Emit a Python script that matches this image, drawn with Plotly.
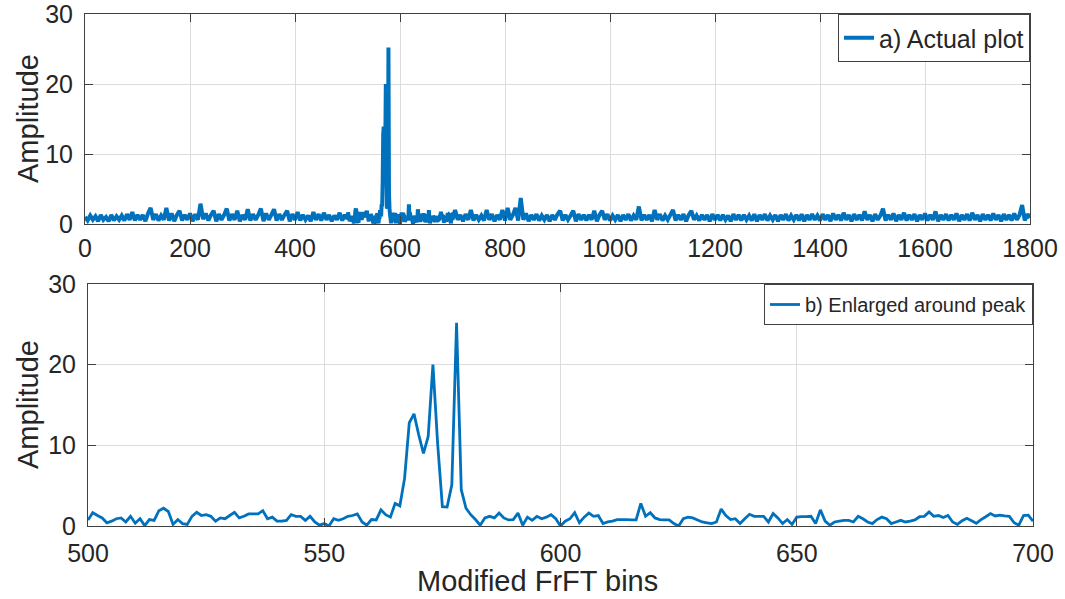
import plotly.graph_objects as go

# ---------------- data ----------------
# b) enlarged region: one value per bin, bins 500..700
zoom_start = 500
zoom_vals = [
    0.75, 1.65, 1.3, 1.0, 0.4, 0.6, 0.9, 1.0, 0.5, 1.2,
    0.35, 0.9, 0.05, 0.8, 0.7, 1.9, 2.2, 1.8, 0.2, 0.8,
    0.3, 0.2, 1.2, 1.7, 1.3, 1.4, 1.2, 0.6, 1.0, 0.9,
    1.3, 1.7, 1.0, 1.2, 1.5, 1.5, 1.5, 1.9, 0.9, 1.1,
    0.6, 0.6, 0.7, 1.4, 1.2, 1.2, 0.7, 1.2, 0.5, 0.1,
    0.3, 0.0, 0.9, 0.7, 0.9, 1.2, 1.3, 1.5, 0.5, 0.1,
    0.8, 0.75, 2.0, 1.4, 1.1, 2.8, 2.5, 5.9, 12.8, 13.9,
    11.3, 9.0, 11.1, 20.0, 10.2, 2.4, 2.35, 5.1, 25.2, 4.5,
    2.2, 1.4, 0.8, 0.1, 1.0, 1.2, 1.0, 1.6, 1.0, 0.75,
    0.8, 1.6, 0.1, 1.1, 0.7, 1.2, 0.9, 1.1, 1.4, 0.9,
    0.0, 0.6, 0.9, 1.65, 0.4, 1.1, 1.6, 1.2, 1.3, 0.3,
    0.5, 0.6, 0.8, 0.8, 0.8, 0.75, 0.75, 2.8, 1.2, 1.65,
    1.0, 0.8, 0.75, 0.75, 0.3, 0.0, 0.9, 1.1, 1.0, 0.75,
    0.5, 0.4, 0.3, 0.5, 2.1, 1.3, 0.8, 0.9, 0.3, 0.9,
    1.45, 1.2, 1.2, 1.2, 0.5, 1.55, 1.0, 0.3, 0.8, 0.2,
    1.1, 1.15, 1.15, 1.2, 0.3, 2.0, 0.6, 0.1, 0.5, 0.6,
    0.7, 0.7, 0.5, 1.2, 0.9, 0.5, 0.3, 0.8, 1.1, 0.9,
    0.3, 0.5, 0.7, 0.5, 0.6, 0.75, 1.15, 1.2, 1.75, 1.2,
    1.3, 1.05, 1.3, 0.5, 0.2, 0.65, 0.95, 0.65, 0.33, 0.8,
    1.15, 1.55, 1.25, 1.35, 1.25, 1.2, 0.4, 0.1, 1.3, 1.35,
    0.6,
]

# a) full range outside the enlarged part, read every 5 bins
step = 5
left_start = 0          # bins 0..495
left_vals = [
    1.0, 0.5, 1.2, 0.6, 1.1, 0.4, 1.3, 0.6, 1.0, 0.4,
    1.3, 0.5, 1.1, 0.6, 1.2, 0.5, 1.4, 0.6, 1.7, 0.5,
    1.3, 0.6, 1.3, 0.4, 1.5, 2.3, 0.6, 1.4, 0.5, 1.2,
    0.6, 2.3, 0.5, 1.5, 0.4, 1.3, 1.9, 0.5, 1.3, 0.6,
    1.5, 0.4, 1.4, 0.6, 2.9, 0.7, 1.5, 0.5, 1.3, 1.9,
    0.4, 1.4, 0.6, 1.3, 2.2, 0.5, 1.4, 0.6, 1.9, 0.4,
    1.3, 0.6, 2.1, 0.5, 1.4, 0.6, 1.3, 2.2, 0.4, 1.5,
    0.6, 1.3, 2.1, 0.5, 1.4, 0.6, 1.3, 1.9, 0.4, 1.4,
    0.6, 1.7, 0.5, 1.3, 0.6, 1.2, 0.4, 1.7, 0.6, 1.4,
    0.5, 1.6, 0.6, 1.3, 0.4, 1.2, 0.6, 1.6, 0.5, 1.3,
]
right_start = 705       # bins 705..1800
right_vals = [
    2.0, 0.6, 1.3, 0.4, 1.4, 0.6, 2.0, 0.5, 1.3, 0.6,
    1.2, 0.5, 2.0, 0.6, 1.4, 0.4, 1.3, 0.6, 2.0, 0.5,
    2.3, 0.6, 1.3, 2.3, 0.5, 3.7, 0.6, 1.5, 0.4, 1.3,
    0.6, 1.4, 0.5, 1.2, 0.6, 1.3, 0.4, 1.3, 0.6, 1.4,
    1.9, 0.5, 1.3, 0.6, 1.2, 1.9, 0.4, 1.4, 0.6, 1.3,
    0.5, 1.3, 0.6, 1.9, 0.4, 1.3, 1.9, 0.6, 1.4, 0.5,
    1.2, 0.6, 1.3, 0.4, 1.3, 0.6, 1.4, 0.5, 1.2, 0.6,
    2.5, 0.5, 1.3, 0.6, 1.3, 0.4, 2.0, 0.6, 1.4, 0.5,
    1.2, 0.6, 1.3, 2.0, 0.5, 1.3, 0.6, 1.4, 0.4, 1.3,
    1.9, 0.6, 1.2, 0.5, 1.3, 0.6, 1.3, 0.4, 1.4, 0.6,
    1.3, 0.5, 1.3, 0.6, 1.2, 0.4, 1.4, 0.6, 1.3, 0.5,
    1.3, 0.6, 1.2, 0.5, 1.4, 0.4, 1.3, 0.6, 1.4, 0.5,
    1.2, 0.6, 1.3, 0.4, 1.3, 0.6, 1.4, 0.5, 1.2, 0.6,
    1.3, 0.5, 1.4, 0.4, 1.3, 0.6, 1.4, 0.6, 1.2, 0.5,
    1.4, 0.6, 1.3, 0.4, 1.5, 0.6, 1.3, 0.5, 1.6, 0.6,
    1.3, 0.4, 1.4, 0.6, 1.3, 0.5, 1.8, 0.6, 1.3, 0.4,
    1.4, 0.6, 1.2, 2.2, 0.5, 1.3, 0.6, 1.5, 0.4, 1.3,
    0.6, 1.6, 0.5, 1.3, 0.6, 1.4, 0.4, 1.3, 0.6, 1.5,
    0.5, 1.3, 0.6, 1.8, 0.4, 1.3, 0.6, 1.4, 0.5, 1.3,
    0.6, 1.5, 0.4, 1.3, 0.6, 1.4, 0.5, 1.6, 0.6, 1.3,
    0.4, 1.4, 0.6, 1.3, 0.5, 1.5, 0.6, 1.3, 0.4, 1.4,
    0.6, 1.3, 0.5, 1.5, 0.6, 1.3, 2.7, 0.5, 1.4, 0.9,
]

top_xticks = [0, 200, 400, 600, 800, 1000, 1200, 1400, 1600, 1800]
bottom_xticks = [500, 550, 600, 650, 700]
yticks = [0, 10, 20, 30]
label_a = "a) Actual plot"
label_b = "b) Enlarged around peak"
x_title = "Modified FrFT bins"
y_title = "Amplitude"

# ---------------- assemble ----------------
zoom_x = [zoom_start + i for i in range(len(zoom_vals))]
left_x = [left_start + step * i for i in range(len(left_vals))]
right_x = [right_start + step * i for i in range(len(right_vals))]
full_x = left_x + zoom_x + right_x
full_y = left_vals + zoom_vals + right_vals

BLUE = "#0072BD"
FONT = "Liberation Sans, Arial, sans-serif"
W, H = 1065, 599

fig = go.Figure()
fig.add_trace(go.Scatter(x=full_x, y=full_y, mode="lines", name=label_a,
                         line=dict(color=BLUE, width=4, simplify=False),
                         xaxis="x", yaxis="y", legend="legend"))
fig.add_trace(go.Scatter(x=zoom_x, y=zoom_vals, mode="lines", name=label_b,
                         line=dict(color=BLUE, width=2.8, simplify=False),
                         xaxis="x2", yaxis="y2", legend="legend2"))

axis_common = dict(showline=True, linecolor="#404040", linewidth=1, mirror="ticks",
                   ticks="inside", ticklen=8, tickcolor="#404040", showgrid=True,
                   gridcolor="#dcdcdc", gridwidth=1, zeroline=False, automargin=False,
                   ticklabeloverflow="allow",
                   tickfont=dict(family=FONT, size=25, color="#262626"))

top_l, top_r, top_t, top_b = 85, 1030, 14, 224
bot_l, bot_r, bot_t, bot_b = 88, 1033, 284, 526

fig.update_layout(
    width=W, height=H,
    margin=dict(l=0, r=0, t=0, b=0, autoexpand=False),
    paper_bgcolor="white", plot_bgcolor="white",
    font=dict(family=FONT, color="#262626"),
    xaxis=dict(axis_common, domain=[top_l / W, top_r / W], range=[0, 1800],
               tickvals=top_xticks, anchor="y", ticklabelstandoff=2),
    yaxis=dict(axis_common, domain=[1 - top_b / H, 1 - top_t / H], range=[0, 30],
               tickvals=yticks, anchor="x", ticklabelstandoff=6),
    xaxis2=dict(axis_common, domain=[bot_l / W, bot_r / W], range=[500, 700],
                tickvals=bottom_xticks, anchor="y2", ticklabelstandoff=5),
    yaxis2=dict(axis_common, domain=[1 - bot_b / H, 1 - bot_t / H], range=[0, 30],
                tickvals=yticks, anchor="x2", ticklabelstandoff=6),
    legend=dict(x=top_r / W, xanchor="right", y=1 - top_t / H, yanchor="top",
                bordercolor="#404040", borderwidth=1, bgcolor="white",
                font=dict(family=FONT, size=25, color="#262626"),
                itemwidth=30, tracegroupgap=0),
    legend2=dict(x=bot_r / W, xanchor="right", y=1 - bot_t / H, yanchor="top",
                 bordercolor="#404040", borderwidth=1, bgcolor="white",
                 font=dict(family=FONT, size=20, color="#262626"),
                 itemwidth=30, tracegroupgap=0),
    showlegend=True,
)

annos = [
    dict(text=y_title, x=28 / W, y=1 - ((top_t + top_b) / 2) / H, textangle=-90),
    dict(text=y_title, x=28 / W, y=1 - ((bot_t + bot_b) / 2) / H, textangle=-90),
    dict(text=x_title, x=((bot_l + bot_r) / 2 - 23) / W, y=1 - 581 / H),
]
for a in annos:
    fig.add_annotation(xref="paper", yref="paper", showarrow=False,
                       xanchor="center", yanchor="middle",
                       font=dict(family=FONT, size=29, color="#262626"), **a)

fig.write_html("out.html")
